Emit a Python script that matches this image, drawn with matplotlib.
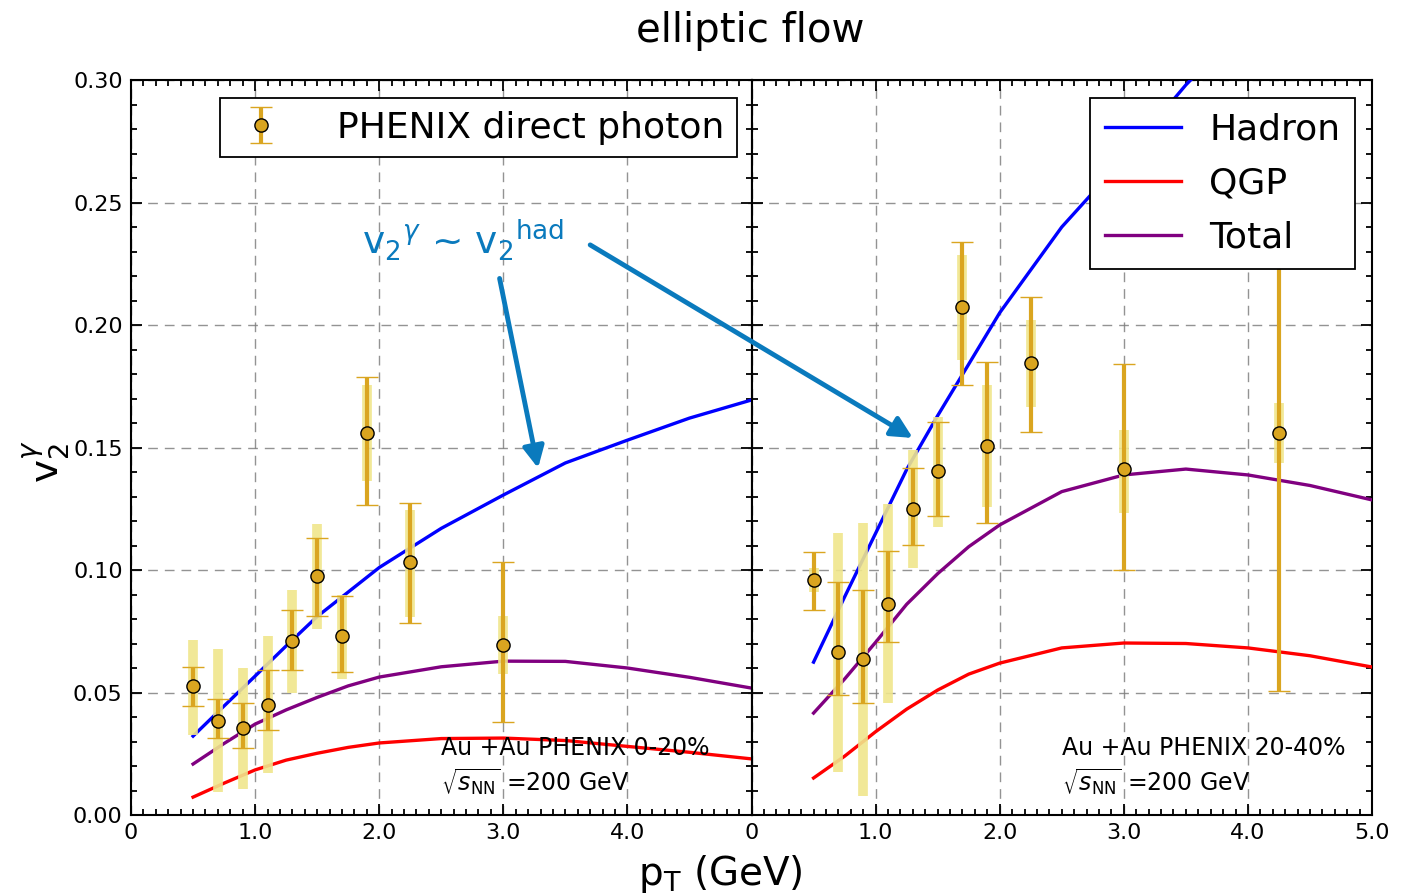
import numpy as np
import matplotlib
matplotlib.use("Agg")
import matplotlib.pyplot as plt
from matplotlib.ticker import MultipleLocator
from matplotlib.patches import ConnectionPatch

### Données lues sur la figure
# points PHENIX (pT en GeV)
pt_020 = [0.5, 0.7, 0.9, 1.1, 1.3, 1.5, 1.7, 1.9, 2.25, 3.0]
v2_020 = [0.0527, 0.0384, 0.0355, 0.0449, 0.0710, 0.0976, 0.0731, 0.1560, 0.1033, 0.0694]
stat_up_020 = [0.0077, 0.0089, 0.0102, 0.0141, 0.0127, 0.0155, 0.0163, 0.0228, 0.0240, 0.0339]
stat_dn_020 = [0.0082, 0.0070, 0.0082, 0.0102, 0.0118, 0.0164, 0.0147, 0.0295, 0.0249, 0.0314]
sys_up_020 = [0.0187, 0.0294, 0.0245, 0.0281, 0.0208, 0.0212, 0.0165, 0.0195, 0.0212, 0.0120]
sys_dn_020 = [0.0200, 0.0290, 0.0249, 0.0278, 0.0212, 0.0217, 0.0176, 0.0197, 0.0225, 0.0120]

pt_2040 = [0.5, 0.7, 0.9, 1.1, 1.3, 1.5, 1.7, 1.9, 2.25, 3.0, 4.25]
v2_2040 = [0.0959, 0.0665, 0.0637, 0.0861, 0.1249, 0.1404, 0.2073, 0.1506, 0.1845, 0.1412, 0.1560]
stat_up_2040 = [0.0114, 0.0286, 0.0281, 0.0217, 0.0167, 0.0200, 0.0266, 0.0343, 0.0269, 0.0429, 0.1050]
stat_dn_2040 = [0.0122, 0.0175, 0.0180, 0.0155, 0.0147, 0.0184, 0.0318, 0.0314, 0.0282, 0.0412, 0.1054]
sys_up_2040 = [0.0050, 0.0486, 0.0555, 0.0409, 0.0241, 0.0220, 0.0213, 0.0249, 0.0175, 0.0160, 0.0120]
sys_dn_2040 = [0.0050, 0.0489, 0.0559, 0.0404, 0.0241, 0.0228, 0.0216, 0.0249, 0.0180, 0.0180, 0.0123]

# courbes théoriques
pt_th = [0.5, 0.75, 1.0, 1.25, 1.5, 1.75, 2.0, 2.5, 3.0, 3.5, 4.0, 4.5, 5.0]
had_020 = [0.0322, 0.0445, 0.0567, 0.0690, 0.0810, 0.0910, 0.1010, 0.1170, 0.1306, 0.1437, 0.1530, 0.1620, 0.1694]
qgp_020 = [0.0073, 0.0130, 0.0184, 0.0224, 0.0252, 0.0276, 0.0294, 0.0312, 0.0314, 0.0304, 0.0280, 0.0256, 0.0229]
tot_020 = [0.0208, 0.0292, 0.0371, 0.0429, 0.0480, 0.0527, 0.0563, 0.0605, 0.0628, 0.0627, 0.0600, 0.0562, 0.0518]

pt_had_2040 = [0.5, 0.75, 1.0, 1.25, 1.5, 1.75, 2.0, 2.5, 3.0, 3.5, 3.75]
had_2040 = [0.0624, 0.0890, 0.1150, 0.1410, 0.1630, 0.1840, 0.2050, 0.2400, 0.2680, 0.2980, 0.3110]
qgp_2040 = [0.0151, 0.0240, 0.0340, 0.0432, 0.0510, 0.0575, 0.0620, 0.0682, 0.0702, 0.0700, 0.0682, 0.0650, 0.0604]
tot_2040 = [0.0416, 0.0555, 0.0705, 0.0860, 0.0985, 0.1095, 0.1184, 0.1320, 0.1388, 0.1412, 0.1388, 0.1345, 0.1286]

### Style
plt.rcParams['font.family'] = 'DejaVu Sans'
plt.rcParams['mathtext.fontset'] = 'dejavusans'
gold = '#DAA520'
bleu = '#0a7abd'
gris = '#808080'

fig, (ax1, ax2) = plt.subplots(1, 2, sharey=True, figsize=(14.24, 8.96), dpi=100)
fig.subplots_adjust(left=0.092, right=0.9635, top=0.9107, bottom=0.0904, wspace=0)

def panneau(ax, pt, v2, sup, sdn, yup, ydn, pt_h, had, qgp, tot, label):
    lignes = []
    lignes += ax.plot(pt_h, had, color='blue', lw=2.4, label='Hadron', zorder=3)
    lignes += ax.plot(pt_th, qgp, color='red', lw=2.4, label='QGP', zorder=3)
    lignes += ax.plot(pt_th, tot, color='purple', lw=2.4, label='Total', zorder=3)
    ax.errorbar(pt, v2, yerr=[ydn, yup], fmt='none', ecolor='khaki', elinewidth=7,
                capsize=0, zorder=4, alpha=0.9)
    h = ax.errorbar(pt, v2, yerr=[sdn, sup], fmt='o', color=gold, mfc=gold, mec='black',
                    ms=9.5, mew=1.0, elinewidth=3, capsize=8, capthick=3, zorder=5,
                    label='PHENIX direct photon')
    ax.text(2.5, 0.0273, "Au +Au PHENIX " + label, fontsize=17, va='center', zorder=6)
    ax.text(2.5, 0.0135, r"$\sqrt{s_{\rm NN}}$ =200 GeV", fontsize=17, va='center', zorder=6)
    ax.set_xlim(0, 5)
    ax.set_ylim(0, 0.30)
    ax.xaxis.set_minor_locator(MultipleLocator(0.1))
    ax.yaxis.set_minor_locator(MultipleLocator(0.01))
    ax.tick_params(which='both', direction='in', top=True, right=True, labelsize=16, width=1.3)
    ax.tick_params(which='major', length=8, pad=6)
    ax.tick_params(which='minor', length=4)
    ax.grid(True, which='major', color=gris, ls=(0, (7, 5)), lw=1.0, alpha=0.85)
    for s in ax.spines.values():
        s.set_linewidth(1.5)
    return h, lignes

h, _ = panneau(ax1, pt_020, v2_020, stat_up_020, stat_dn_020, sys_up_020, sys_dn_020,
               pt_th, had_020, qgp_020, tot_020, "0-20%")
_, lignes = panneau(ax2, pt_2040, v2_2040, stat_up_2040, stat_dn_2040, sys_up_2040, sys_dn_2040,
                    pt_had_2040, had_2040, qgp_2040, tot_2040, "20-40%")

ax1.set_xticks([0, 1, 2, 3, 4, 5])
ax1.set_xticklabels(['0', '1.0', '2.0', '3.0', '4.0', ''])
ax2.set_xticks([0, 1, 2, 3, 4, 5])
ax2.set_xticklabels(['0', '1.0', '2.0', '3.0', '4.0', '5.0'])
ax1.set_yticks(np.arange(0, 0.31, 0.05))
ax1.set_yticklabels(['0.00', '0.05', '0.10', '0.15', '0.20', '0.25', '0.30'])
ax2.tick_params(labelleft=False)

### Légendes
leg1 = ax1.legend(handles=[h], loc='upper left', bbox_to_anchor=(0.143, 0.9755), fontsize=26,
                  fancybox=False, edgecolor='black', framealpha=1, handlelength=1.6,
                  handletextpad=1.3, borderpad=0.35, borderaxespad=0)
leg1.get_frame().set_linewidth(1.3)
leg2 = ax2.legend(handles=lignes, loc='upper right', bbox_to_anchor=(0.9726, 0.9755), fontsize=26,
                  fancybox=False, edgecolor='black', framealpha=1, handlelength=2.1,
                  handletextpad=0.8, borderpad=0.4, labelspacing=0.55, borderaxespad=0)
leg2.get_frame().set_linewidth(1.3)
leg1.set_zorder(10)
leg2.set_zorder(10)

### Annotation et flèches
ax1.text(2.68, 0.2347, r"v$_2$$^\gamma$ ~ v$_2$$^{\rm had}$", color=bleu, fontsize=27,
         ha='center', va='center')
ax1.annotate("", xy=(3.28, 0.1416), xytext=(2.97, 0.219),
             arrowprops=dict(arrowstyle='-|>', color=bleu, lw=3.5, mutation_scale=32,
                             shrinkA=0, shrinkB=0))
fleche = ConnectionPatch(xyA=(3.70, 0.2327), coordsA=ax1.transData,
                         xyB=(1.30, 0.1539), coordsB=ax2.transData,
                         arrowstyle='-|>', color=bleu, lw=3.5, mutation_scale=32,
                         shrinkA=0, shrinkB=0, zorder=8)
fig.add_artist(fleche)

fig.text(0.527, 0.965, "elliptic flow", fontsize=29, ha='center', va='center')
fig.text(0.506, 0.025, r"p$_{\rm T}$ (GeV)", fontsize=28, ha='center', va='center')
fig.text(0.033, 0.485, r"v$_2^\gamma$", fontsize=28, rotation=90, ha='center', va='center')

plt.savefig("out.png", dpi=100)
